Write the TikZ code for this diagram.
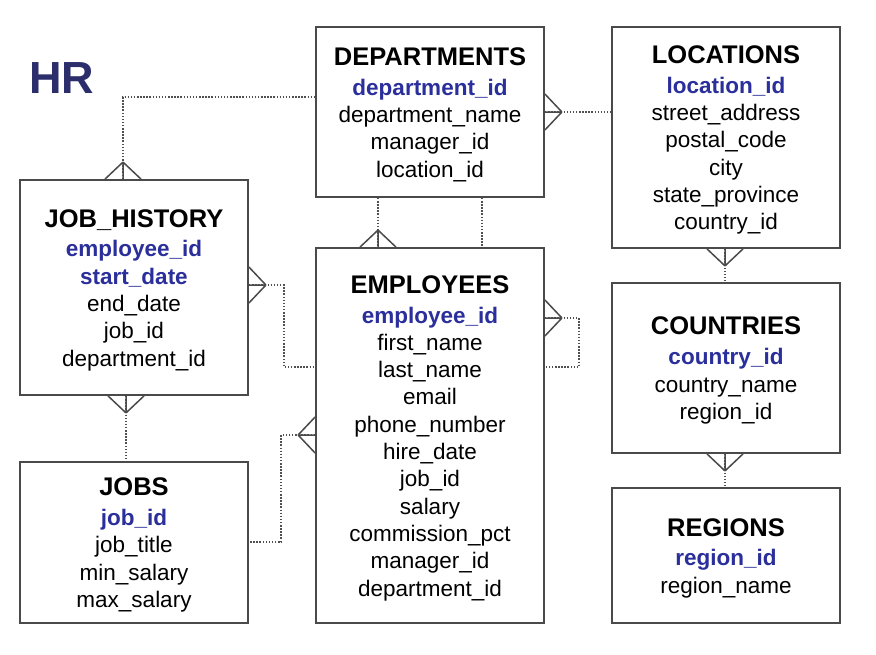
\documentclass[tikz,border=0pt]{standalone}
\usepackage{fontspec}
\setmainfont{Liberation Sans}
\usetikzlibrary{calc}
\definecolor{keyblue}{HTML}{2B2F9B}
\definecolor{hrblue}{HTML}{2C2D6B}
\definecolor{boxc}{HTML}{4A4A4A}
\definecolor{relc}{HTML}{505050}
\newcommand\regf{\fontsize{22.5}{27.3}\selectfont}
\newcommand\ttlf{\fontsize{25.5}{27.3}\selectfont\bfseries\rule{0pt}{23pt}}
\newcommand\keyf{\fontsize{22.5}{27.3}\selectfont\bfseries\color{keyblue}}
\newcommand\crowfoot[3]{%
  \draw[foot] ($(#1)+(17*#2,17*#3)$) -- (#1)
    ($(#1)+(17*#2,17*#3)$) -- ($(#1)+(18*#3,18*#2)$)
    ($(#1)+(17*#2,17*#3)$) -- ($(#1)-(18*#3,18*#2)$);}
\tikzset{
  tbl/.style={draw=boxc, line width=1.8pt, fill=white, align=center,
    font=\regf, inner sep=0pt, minimum width=228pt},
  rel/.style={draw=relc, line width=1.4pt, dash pattern=on 1.5pt off 1.6pt},
  foot/.style={draw=boxc, line width=1.5pt},
}
\begin{document}
\begin{tikzpicture}[x=1pt,y=-1pt]
\useasboundingbox (0,0) rectangle (876,654);
\node[anchor=base west, inner sep=0pt, font=\fontsize{45}{50}\selectfont\bfseries, text=hrblue] (hr) at (29,93) {HR};

\node[tbl, minimum height=170pt] (dep) at (430,112)
  {{\ttlf DEPARTMENTS}\\[2.5pt]{\keyf department\_id}\\department\_name\\manager\_id\\location\_id};
\node[tbl, minimum height=221pt] (loc) at (726,137.5)
  {{\ttlf LOCATIONS}\\[2.5pt]{\keyf location\_id}\\street\_address\\postal\_code\\city\\state\_province\\country\_id};
\node[tbl, minimum height=215pt] (jh) at (134,287.5)
  {{\ttlf JOB\_HISTORY}\\[2.5pt]{\keyf employee\_id}\\{\keyf start\_date}\\end\_date\\job\_id\\department\_id};
\node[tbl, minimum height=375pt] (emp) at (430,435.5)
  {{\ttlf EMPLOYEES}\\[2.5pt]{\keyf employee\_id}\\first\_name\\last\_name\\email\\phone\_number\\hire\_date\\job\_id\\salary\\commission\_pct\\manager\_id\\department\_id};
\node[tbl, minimum height=161pt] (jobs) at (134,542.5)
  {{\ttlf JOBS}\\[2.5pt]{\keyf job\_id}\\job\_title\\min\_salary\\max\_salary};
\node[tbl, minimum height=170pt] (cty) at (726,368)
  {{\ttlf COUNTRIES}\\[2.5pt]{\keyf country\_id}\\country\_name\\region\_id};
\node[tbl, minimum height=135pt] (reg) at (726,555.5)
  {{\ttlf REGIONS}\\[2.5pt]{\keyf region\_id}\\region\_name};

% connection points on box edges
\coordinate (jhT) at (jh.north -| 123,0);
\coordinate (depW) at (dep.west |- 0,97);
\coordinate (depE) at (dep.east |- 0,112);
\coordinate (locW) at (loc.west |- 0,112);
\coordinate (depB1) at (dep.south -| 378,0);
\coordinate (empT1) at (emp.north -| 378,0);
\coordinate (depB2) at (dep.south -| 482,0);
\coordinate (empT2) at (emp.north -| 482,0);
\coordinate (jhE) at (jh.east |- 0,285);
\coordinate (empW1) at (emp.west |- 0,367);
\coordinate (empE1) at (emp.east |- 0,318);
\coordinate (empE2) at (emp.east |- 0,367);
\coordinate (jhB) at (jh.south -| 126,0);
\coordinate (jobsT) at (jobs.north -| 126,0);
\coordinate (empW2) at (emp.west |- 0,435);
\coordinate (jobsE) at (jobs.east |- 0,542);
\coordinate (locB) at (loc.south -| 725,0);
\coordinate (ctyT) at (cty.north -| 725,0);
\coordinate (ctyB) at (cty.south -| 725,0);
\coordinate (regT) at (reg.north -| 725,0);

% relationships
\draw[rel] (jhT) |- (depW);
\draw[rel] (depE) -- (locW);
\draw[rel] (depB1) -- (empT1);
\draw[rel] (depB2) -- (empT2);
\draw[rel] (jhE) -- ++(35,0) |- (empW1);
\draw[rel] (empE1) -- ++(34,0) |- (empE2);
\draw[rel] (jhB) -- (jobsT);
\draw[rel] (empW2) -- ++(-34,0) |- (jobsE);
\draw[rel] (locB) -- (ctyT);
\draw[rel] (ctyB) -- (regT);

% crow's feet
\crowfoot{jhT}{0}{-1}
\crowfoot{depE}{1}{0}
\crowfoot{empT1}{0}{-1}
\crowfoot{jhE}{1}{0}
\crowfoot{empE1}{1}{0}
\crowfoot{jhB}{0}{1}
\crowfoot{empW2}{-1}{0}
\crowfoot{locB}{0}{1}
\crowfoot{ctyB}{0}{1}
\end{tikzpicture}
\end{document}
